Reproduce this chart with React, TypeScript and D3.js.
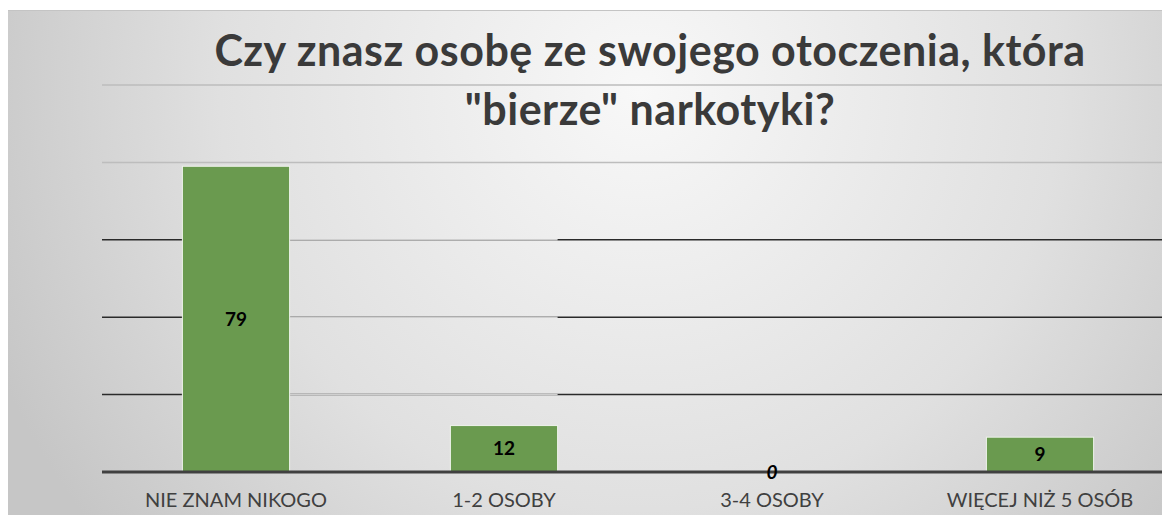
import React, { useEffect, useRef } from 'react';
import * as d3 from 'd3';

const categories = ['NIE ZNAM NIKOGO', '1-2 OSOBY', '3-4 OSOBY', 'WIĘCEJ NIŻ 5 OSÓB'];
const values = [79, 12, 0, 9];
const yTicks = [0, 20, 40, 60, 80, 100];
const titleLines = ['Czy znasz osobę ze swojego otoczenia, która', '"bierze" narkotyki?'];

export default function App() {
  const svgRef = useRef<SVGSVGElement | null>(null);

  useEffect(() => {
    const width = 1162,
      height = 515;
    const svg = d3.select(svgRef.current);
    svg.selectAll('*').remove();

    // background
    const defs = svg.append('defs');
    const grad = defs
      .append('radialGradient')
      .attr('id', 'bg')
      .attr('gradientUnits', 'userSpaceOnUse')
      .attr('cx', 640)
      .attr('cy', 90)
      .attr('r', 700);
    grad.append('stop').attr('offset', '0%').attr('stop-color', '#f8f8f8');
    grad.append('stop').attr('offset', '60%').attr('stop-color', '#e0e0e0');
    grad.append('stop').attr('offset', '100%').attr('stop-color', '#c6c6c6');

    svg.append('rect').attr('width', width).attr('height', height).attr('fill', '#ffffff');
    svg
      .append('rect')
      .attr('x', 8)
      .attr('y', 10)
      .attr('width', width - 8)
      .attr('height', height - 10)
      .attr('fill', 'url(#bg)');
    svg
      .append('line')
      .attr('x1', 8)
      .attr('x2', width)
      .attr('y1', 10.5)
      .attr('y2', 10.5)
      .attr('stroke', '#c4c4c4');

    const x = d3
      .scaleBand()
      .domain(categories)
      .range([102, 1174])
      .paddingInner(0.6)
      .paddingOuter(0.3);
    const y = d3.scaleLinear().domain([0, 100]).range([472, 85]);

    // gridlines
    yTicks.slice(1).forEach(t => {
      const dark = t >= 20 && t <= 60;
      svg
        .append('line')
        .attr('x1', 102)
        .attr('x2', width)
        .attr('y1', y(t))
        .attr('y2', y(t))
        .attr('stroke', dark ? '#2a2a2a' : '#bdbdbd')
        .attr('stroke-width', 1.5);
      if (dark) {
        // lighter segment between the first two bars
        svg
          .append('line')
          .attr('x1', x(categories[0])! + x.bandwidth())
          .attr('x2', x(categories[1])! + x.bandwidth())
          .attr('y1', y(t))
          .attr('y2', y(t))
          .attr('stroke', '#cfcfcf')
          .attr('stroke-width', 1.5);
      }
    });

    // bars
    svg
      .selectAll('rect.bar')
      .data(categories.map((c, i) => ({ c, v: values[i] })).filter(d => d.v > 0))
      .enter()
      .append('rect')
      .attr('class', 'bar')
      .attr('x', d => x(d.c)!)
      .attr('y', d => y(d.v))
      .attr('width', x.bandwidth())
      .attr('height', d => y(0) - y(d.v))
      .attr('fill', '#6a9a4f')
      .attr('stroke', '#eef3ea')
      .attr('stroke-width', 1);

    // baseline
    svg
      .append('line')
      .attr('x1', 102)
      .attr('x2', width)
      .attr('y1', y(0))
      .attr('y2', y(0))
      .attr('stroke', '#404040')
      .attr('stroke-width', 3);

    // value labels
    values.forEach((v, i) => {
      svg
        .append('text')
        .attr('x', x(categories[i])! + x.bandwidth() / 2)
        .attr('y', v > 0 ? (y(v) + y(0)) / 2 : y(0))
        .attr('dy', '0.35em')
        .attr('text-anchor', 'middle')
        .attr('font-family', 'Lato, sans-serif')
        .attr('font-weight', 'bold')
        .attr('font-style', v > 0 ? 'normal' : 'italic')
        .attr('font-size', 19)
        .attr('fill', '#000')
        .text(v);
    });

    // category labels
    categories.forEach(c => {
      svg
        .append('text')
        .attr('x', x(c)! + x.bandwidth() / 2)
        .attr('y', 507)
        .attr('text-anchor', 'middle')
        .attr('font-family', 'Lato, sans-serif')
        .attr('font-size', 20)
        .attr('fill', '#404040')
        .text(c);
    });

    // title
    titleLines.forEach((t, i) => {
      svg
        .append('text')
        .attr('x', 650)
        .attr('y', 66 + i * 59)
        .attr('text-anchor', 'middle')
        .attr('font-family', 'Lato, sans-serif')
        .attr('font-weight', 'bold')
        .attr('font-size', 43)
        .attr('letter-spacing', 0.5)
        .attr('fill', '#3a3a3a')
        .text(t);
    });
  }, []);

  return (
    <div style={{ position: 'fixed', left: 0, top: 0, width: 1162, height: 515 }}>
      <svg ref={svgRef} width={1162} height={515} style={{ display: 'block' }} />
    </div>
  );
}
